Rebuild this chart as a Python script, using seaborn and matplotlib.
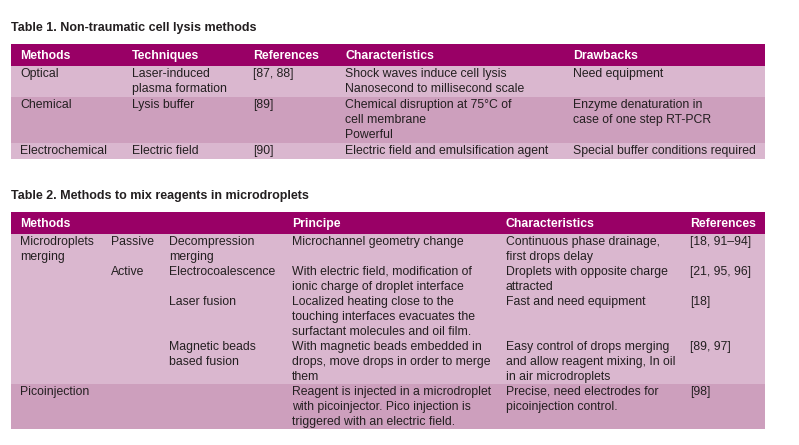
import matplotlib
matplotlib.use("Agg")
import matplotlib.pyplot as plt
import seaborn as sns
from matplotlib.patches import Rectangle

# Table 1 contents
t1_title = "Table 1. Non-traumatic cell lysis methods"
t1_headers = ["Methods", "Techniques", "References", "Characteristics", "Drawbacks"]
t1_methods = ["Optical", "Chemical", "Electrochemical"]
t1_techniques = ["Laser-induced\nplasma formation", "Lysis buffer", "Electric field"]
t1_refs = ["[87, 88]", "[89]", "[90]"]
t1_chars = ["Shock waves induce cell lysis\nNanosecond to millisecond scale",
            "Chemical disruption at 75°C of\ncell membrane\nPowerful",
            "Electric field and emulsification agent"]
t1_drawbacks = ["Need equipment",
                "Enzyme denaturation in\ncase of one step RT-PCR",
                "Special buffer conditions required"]
t1_shade = [0, 1, 0]

# Table 2 contents
t2_title = "Table 2. Methods to mix reagents in microdroplets"
t2_headers = ["Methods", "Principe", "Characteristics", "References"]
t2_methods = ["Microdroplets\nmerging", "", "", "", "Picoinjection"]
t2_modes = ["Passive", "Active", "", "", ""]
t2_techniques = ["Decompression\nmerging", "Electrocoalescence", "Laser fusion",
                 "Magnetic beads\nbased fusion", ""]
t2_principe = ["Microchannel geometry change",
               "With electric field, modification of\nionic charge of droplet interface",
               "Localized heating close to the\ntouching interfaces evacuates the\nsurfactant molecules and oil film.",
               "With magnetic beads embedded in\ndrops, move drops in order to merge\nthem",
               "Reagent is injected in a microdroplet\nwith picoinjector. Pico injection is\ntriggered with an electric field."]
t2_chars = ["Continuous phase drainage,\nfirst drops delay",
            "Droplets with opposite charge\nattracted",
            "Fast and need equipment",
            "Easy control of drops merging\nand allow reagent mixing, In oil\nin air microdroplets",
            "Precise, need electrodes for\npicoinjection control."]
t2_refs = ["[18, 91–94]", "[21, 95, 96]", "[18]", "[89, 97]", "[98]"]
t2_shade = [0, 0, 0, 0, 1]

sns.set_theme(style="white")
plt.rcParams['font.family'] = ['Liberation Sans', 'DejaVu Sans']

HEAD = "#990066"
SHADES = ["#dab7cf", "#cd9fbd"]
TXT = "#231f20"
FS = 8.8
LINE = 15
X0, X1 = 11, 765

fig = plt.figure(figsize=(7.99, 4.45), dpi=100)
ax = fig.add_axes([0, 0, 1, 1])
ax.set_xlim(0, 799)
ax.set_ylim(445, 0)
ax.axis("off")


def draw_cell(x, y, text):
    # one text per line so the line pitch matches the print layout
    for i, line in enumerate(text.split("\n")):
        ax.text(x, y + 11 + i * LINE, line, fontsize=FS, color=TXT, va="baseline", ha="left")


def draw_table(title, title_y, head_top, headers, head_x, columns, col_x, shade, extra=0):
    ax.text(X0, title_y, title, fontsize=9.0, fontweight="bold", color=TXT, va="baseline")
    ax.add_patch(Rectangle((X0, head_top), X1 - X0, 22, color=HEAD, lw=0))
    for h, x in zip(headers, head_x):
        ax.text(x, head_top + 15, h, fontsize=FS, fontweight="bold", color="white", va="baseline")
    y = head_top + 22
    for r in range(len(shade)):
        nlines = max(len(col[r].split("\n")) for col in columns)
        hgt = nlines * LINE + extra
        ax.add_patch(Rectangle((X0, y), X1 - X0, hgt, color=SHADES[shade[r]], lw=0))
        for col, x in zip(columns, col_x):
            draw_cell(x, y, col[r])
        y += hgt


draw_table(t1_title, 31, 44, t1_headers, [20, 132, 253, 345, 573],
           [t1_methods, t1_techniques, t1_refs, t1_chars, t1_drawbacks],
           [20, 132, 253, 345, 573], t1_shade, extra=1)

draw_table(t2_title, 199, 212, t2_headers, [20, 292, 506, 690],
           [t2_methods, t2_modes, t2_techniques, t2_principe, t2_chars, t2_refs],
           [20, 111, 169, 292, 506, 690], t2_shade, extra=0)

plt.savefig("out.png", dpi=100)
